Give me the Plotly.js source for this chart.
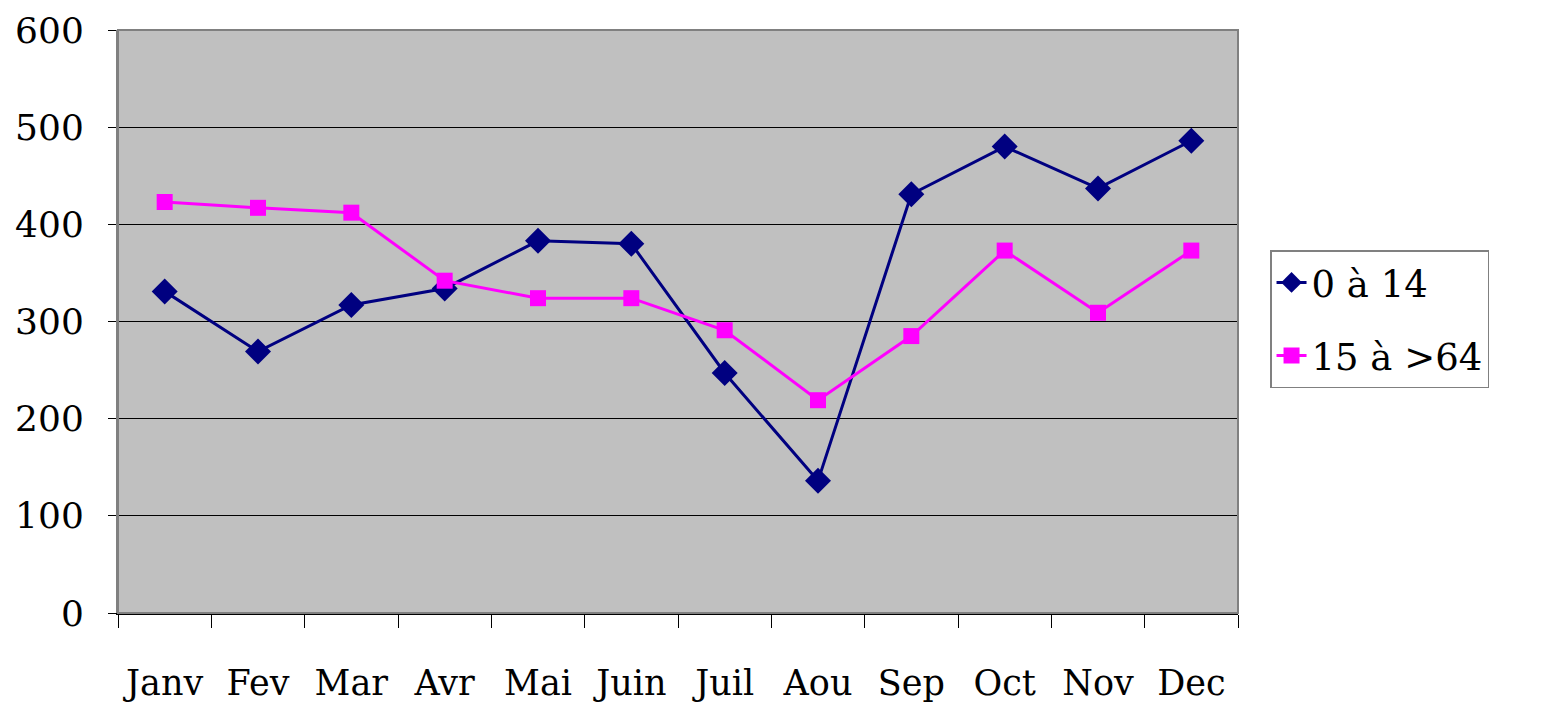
<!DOCTYPE html>
<html>
<head>
<meta charset="utf-8">
<script src="https://cdn.plot.ly/plotly-3.0.1.min.js"></script>
<style>html,body{margin:0;padding:0;background:#fff;}#chart{width:1547px;height:709px;}</style>
</head>
<body>
<div id="chart"></div>
<script>
const months = ["Janv","Fev","Mar","Avr","Mai","Juin","Juil","Aou","Sep","Oct","Nov","Dec"];
const seriesNames = ["0 à 14", "15 à >64"];
const young = [331, 269, 317, 334, 383, 380, 247, 136, 431, 480, 437, 486];
const adults = [423, 417, 412, 342, 324, 324, 291, 219, 285, 373, 309, 373];
const yTicks = [0, 100, 200, 300, 400, 500, 600];

const fam = "DejaVu Serif";

const traces = [
  {x: months, y: young, name: seriesNames[0], legendgroup: "a", type: "scatter", mode: "lines+markers",
   line: {color: "#000080", width: 3},
   marker: {symbol: "diamond", size: 20, color: "#000080"}},
  {x: months, y: adults, name: seriesNames[1], legendgroup: "b", type: "scatter", mode: "lines+markers",
   line: {color: "#ff00ff", width: 3},
   marker: {symbol: "square", size: 16, color: "#ff00ff"}}
];

const layout = {
  width: 1547, height: 709,
  margin: {l: 118, r: 309, t: 30, b: 96},
  paper_bgcolor: "#ffffff",
  plot_bgcolor: "#c0c0c0",
  font: {family: fam, size: 37, color: "#000"},
  showlegend: true,
  legend: {x: 1.0286, xanchor: "left", y: 0.622, yanchor: "top",
    bordercolor: "#808080", borderwidth: 1.5, bgcolor: "#ffffff",
    traceorder: "grouped", tracegroupgap: 22,
    font: {family: fam, size: 37, color: "#000"}},
  xaxis: {type: "category", tickson: "boundaries", ticks: "outside", ticklen: 13,
    tickcolor: "#000", tickwidth: 1, showgrid: false, showline: true, linecolor: "#000", linewidth: 1.5,
    ticklabelstandoff: 38, tickfont: {family: fam, size: 35, color: "#000"}, zeroline: false,
    range: [-0.5, 11.5]},
  yaxis: {range: [0, 600], tickvals: yTicks, ticks: "outside", ticklen: 8, tickcolor: "#000",
    showgrid: true, gridcolor: "#000", gridwidth: 1, showline: true, linecolor: "#808080", linewidth: 2,
    ticklabelstandoff: 17, tickfont: {family: fam, size: 36, color: "#000"}, zeroline: false},
  shapes: [
    {type: "rect", xref: "paper", yref: "paper", x0: 0, x1: 1, y0: 0, y1: 1,
     line: {color: "#808080", width: 2}, fillcolor: "rgba(0,0,0,0)", layer: "above"}
  ]
};

Plotly.newPlot("chart", traces, layout, {displayModeBar: false, staticPlot: true});
</script>
</body>
</html>
